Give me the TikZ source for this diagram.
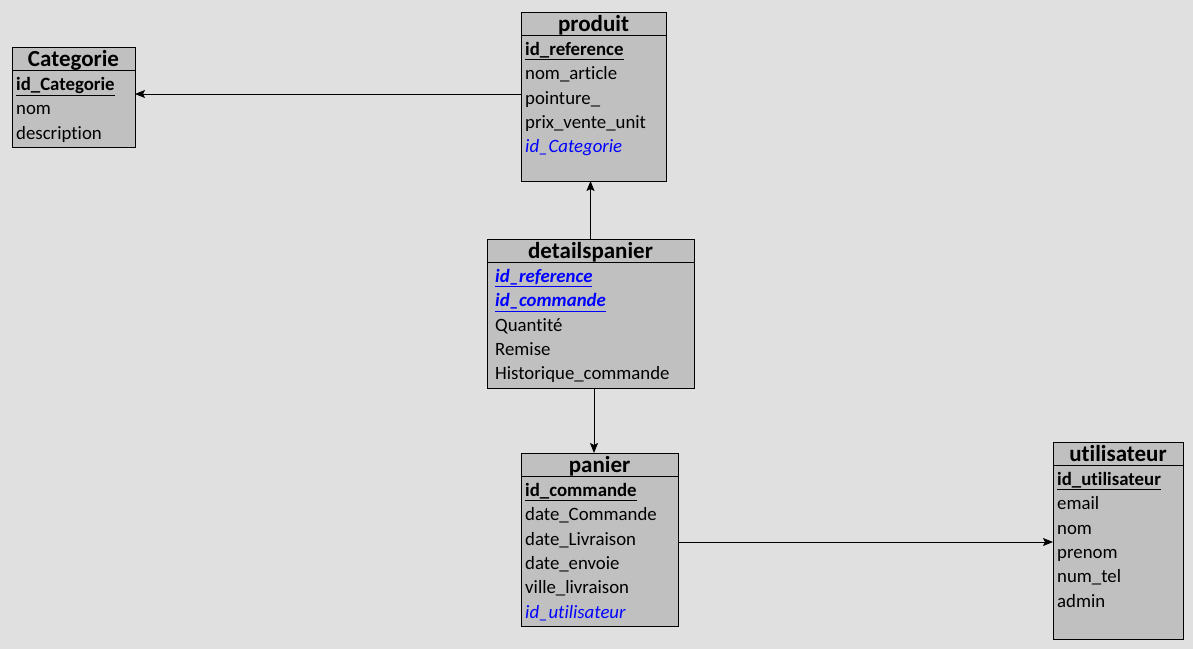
\documentclass[tikz,border=0pt]{standalone}
\usepackage{fontspec}
\setmainfont{Carlito}[Ligatures={NoCommon}]
\usetikzlibrary{arrows.meta,positioning}

\definecolor{bg}{RGB}{224,224,224}
\definecolor{boxfill}{RGB}{192,192,192}
\definecolor{fkblue}{RGB}{0,0,255}

\newcommand{\pkey}[1]{\textbf{\underline{#1}}}
\newcommand{\fkey}[1]{\textcolor{fkblue}{\textit{#1}}}
\newcommand{\pfkey}[1]{\textcolor{fkblue}{\textbf{\textit{\underline{#1}}}}}

\tikzset{
        table/.style = {draw, fill=boxfill, line width=0.9pt, anchor=north west,
            inner sep=0pt, outer sep=0pt},
        title/.style = {font=\fontsize{23}{23}\selectfont\bfseries, anchor=base},
        attr/.style = {font=\fontsize{18.8}{18.8}\selectfont, anchor=base west, inner sep=0pt},
        link/.style = {-{Stealth[length=10pt,width=8pt,inset=2pt]}, line width=0.8pt}
    }

\begin{document}
\begin{tikzpicture}[x=1pt, y=-1pt]
            \fill[bg] (0,0) rectangle (1193,649);
            \useasboundingbox (0,0) rectangle (1193,649);

            % Categorie
            \node[table, minimum width=123pt, minimum height=100pt] (cat) at (12,47) {};
            \node[title] (cat-title) at ([yshift=-19.5pt]cat.north) {Categorie};
            \draw[line width=0.9pt] ([yshift=-23pt]cat.north west) -- ([yshift=-23pt]cat.north east);
            \foreach \i/\t in {1/\pkey{id\_Categorie},2/nom,3/description}
                \node[attr] (cat-\i) at ([shift={(4,{43.5+(\i-1)*24.3})}]cat.north west) {\t};

            % produit
            \node[table, minimum width=145pt, minimum height=169pt] (prod) at (521,12) {};
            \node[title] (prod-title) at ([yshift=-19.5pt]prod.north) {produit};
            \draw[line width=0.9pt] ([yshift=-23pt]prod.north west) -- ([yshift=-23pt]prod.north east);
            \foreach \i/\t in {1/\pkey{id\_reference},2/nom\_article,3/pointure\_,4/prix\_vente\_unit,5/\fkey{id\_Categorie}}
                \node[attr] (prod-\i) at ([shift={(4,{43.5+(\i-1)*24.3})}]prod.north west) {\t};

            % detailspanier
            \node[table, minimum width=207pt, minimum height=149pt] (det) at (487,239) {};
            \node[title] (det-title) at ([yshift=-19.5pt]det.north) {detailspanier};
            \draw[line width=0.9pt] ([yshift=-23pt]det.north west) -- ([yshift=-23pt]det.north east);
            \foreach \i/\t in {1/\pfkey{id\_reference},2/\pfkey{id\_commande},3/Quantité,4/Remise,5/Historique\_commande}
                \node[attr] (det-\i) at ([shift={(8,{43.5+(\i-1)*24.3})}]det.north west) {\t};

            % panier
            \node[table, minimum width=157pt, minimum height=173pt] (pan) at (521,453) {};
            \node[title] (pan-title) at ([yshift=-19.5pt]pan.north) {panier};
            \draw[line width=0.9pt] ([yshift=-23pt]pan.north west) -- ([yshift=-23pt]pan.north east);
            \foreach \i/\t in {1/\pkey{id\_commande},2/date\_Commande,3/date\_Livraison,4/date\_envoie,5/ville\_livraison,6/\fkey{id\_utilisateur}}
                \node[attr] (pan-\i) at ([shift={(4,{43.5+(\i-1)*24.3})}]pan.north west) {\t};

            % utilisateur
            \node[table, minimum width=130pt, minimum height=197pt] (util) at (1053,442) {};
            \node[title] (util-title) at ([yshift=-19.5pt]util.north) {utilisateur};
            \draw[line width=0.9pt] ([yshift=-23pt]util.north west) -- ([yshift=-23pt]util.north east);
            \foreach \i/\t in {1/\pkey{id\_utilisateur},2/email,3/nom,4/prenom,5/num\_tel,6/admin}
                \node[attr] (util-\i) at ([shift={(4,{43.5+(\i-1)*24.3})}]util.north west) {\t};

            % links
            \draw[link] ([yshift=2.5pt]prod.west) -- ([yshift=2.5pt]prod.west -| cat.east);
            \draw[link] (det.north) -- (det.north |- prod.south);
            \draw[link] ([xshift=3.5pt]det.south) -- ([xshift=3.5pt]det.south |- pan.north);
            \draw[link] ([yshift=-2.5pt]pan.east) -- ([yshift=-2.5pt]pan.east -| util.west);
        \end{tikzpicture}
\end{document}
